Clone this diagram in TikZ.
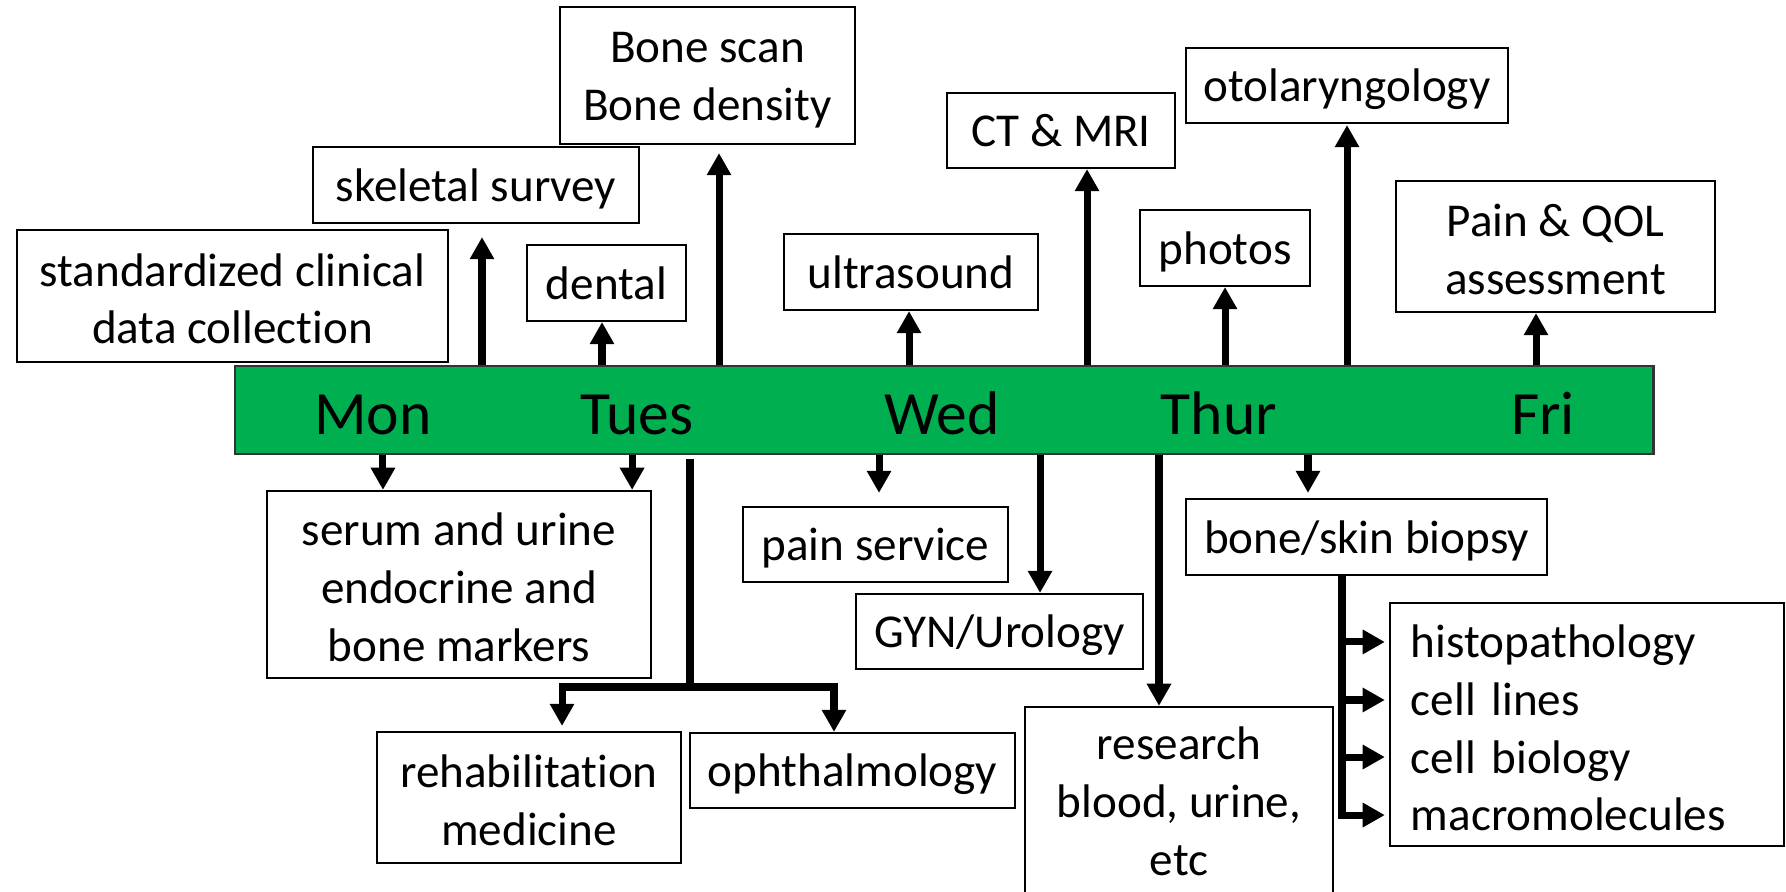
\documentclass[tikz,border=0pt]{standalone}
\usepackage{fontspec}
\setmainfont{Carlito}[Ligatures=NoCommon]
\usepackage{tikz}
\usetikzlibrary{arrows.meta}
\definecolor{weekgreen}{HTML}{00B050}
\newcommand\boxstrut{\rule[-2.7pt]{0pt}{14.6pt}}
\newcommand\tallstrut{\rule[-2.7pt]{0pt}{16.2pt}}
\newcommand\liststrut{\rule[-2.7pt]{0pt}{16.6pt}}

\begin{document}
\begin{tikzpicture}[x=0.01cm, y=-0.01cm,
    box/.style={draw=black, line width=0.6pt, fill=white, align=center, inner sep=0pt,
        font=\fontsize{13.4}{16.4}\selectfont,
        execute at begin node=\boxstrut, execute at end node=\boxstrut},
    day/.style={anchor=base, font=\fontsize{17.5}{20}\selectfont},
    arr/.style={-{Triangle[length=6.3pt, width=6.6pt]}, line width=2pt},
    trunk/.style={line width=2pt}]
        \useasboundingbox (0,0) rectangle (1786,892);

        % Week bar
        \node[draw=black!80, line width=0.6pt, fill=weekgreen, minimum width=141.8mm,
            minimum height=8.8mm, inner sep=0pt] (week) at (944,410) {};
        \node[day] (mon) at (373,435) {Mon};
        \node[day] (tues) at (637,435) {Tues};
        \node[day] (wed) at (942,435) {Wed};
        \node[day] (thur) at (1219,435) {Thur};
        \node[day] (fri) at (1543,435) {Fri};

        % Boxes above
        \node[box, minimum width=43.1mm, minimum height=13.2mm] (clinical) at (232.5,296)
            {\tallstrut standardized clinical\\data collection};
        \node[box, minimum width=32.6mm, minimum height=7.6mm] (skeletal) at (476,185) {skeletal survey};
        \node[box, minimum width=15.9mm, minimum height=7.6mm] (dental) at (606.5,283) {dental};
        \node[box, minimum width=29.5mm, minimum height=13.7mm] (bonescan) at (707.5,75.5)
            {\boxstrut Bone scan\\Bone density};
        \node[box, minimum width=25.4mm, minimum height=7.6mm] (ultra) at (911,272) {ultrasound};
        \node[box, minimum width=22.8mm, minimum height=7.5mm] (ctmri) at (1061,130.5) {CT \& MRI};
        \node[box, minimum width=32.2mm, minimum height=7.5mm] (oto) at (1347,85.5) {otolaryngology};
        \node[box, minimum width=17mm, minimum height=7.6mm] (photos) at (1225,248) {photos};
        \node[box, minimum width=31.9mm, minimum height=13.1mm] (qol) at (1555.5,246.5)
            {\tallstrut Pain \& QOL\\assessment};

        % Boxes below
        \node[box, minimum width=38.4mm, minimum height=18.7mm] (markers) at (459,584.5)
            {\tallstrut serum and urine\\endocrine and\\bone markers};
        \node[box, minimum width=30.4mm, minimum height=13.1mm] (rehab) at (529,797.5)
            {\tallstrut rehabilitation\\medicine};
        \node[box, minimum width=32.5mm, minimum height=7.5mm] (ophth) at (852.5,770.5) {ophthalmology};
        \node[box, minimum width=26.5mm, minimum height=7.5mm] (painsvc) at (875.5,544.5) {pain service};
        \node[box, minimum width=28.7mm, minimum height=7.5mm] (gyn) at (999.5,631.5) {GYN/Urology};
        \node[box, minimum width=30.8mm, minimum height=19.8mm] (research) at (1179,806)
            {research\\blood, urine,\\etc};
        \node[box, minimum width=36.1mm, minimum height=7.6mm] (biopsy) at (1366.5,537) {bone/skin biopsy};
        \node[box, align=left, inner xsep=2.1mm, text width=35.2mm, minimum height=24.3mm,
            execute at begin node=\liststrut]
            (lab) at (1587,724.5) {histopathology\\cell lines\\cell biology\\macromolecules};

        % Arrows up
        \foreach \n/\dx/\gap in {skeletal/0.6/1.3, dental/-0.45/0, bonescan/1.15/0.8, ultra/-0.2/0,
            ctmri/2.6/0, oto/0/0.1, photos/0/0, qol/-1.95/0}
            \draw[arr] ([xshift=\dx mm]\n.south |- week.north) -- ([xshift=\dx mm, yshift=-\gap mm]\n.south);

        % Arrows down
        \foreach \n/\dx/\gap in {markers/-7.6/0, markers/17.3/0, painsvc/0.35/1.3, gyn/4.05/0,
            research/-2/0, biopsy/-5.85/0.5}
            \draw[arr] ([xshift=\dx mm]\n.north |- week.south) -- ([xshift=\dx mm, yshift=\gap mm]\n.north);

        % Tuesday fork
        \coordinate (fork) at (690,687);
        \draw[trunk] ([yshift=-0.4mm]fork |- week.south) -- (fork);
        \draw[arr] (fork) -| ([xshift=3.3mm, yshift=0.5mm]rehab.north);
        \draw[arr] (fork) -| ([xshift=-1.85mm]ophth.north);

        % Biopsy branches
        \coordinate (split) at ([xshift=-2.45mm]biopsy.south);
        \coordinate (last) at ([yshift=-9.4mm]lab.west);
        \draw[trunk] (split) -- (split |- last);
        \foreach \dy in {8.25, 2.45, -3.25, -9.05}
            \draw[arr] ([yshift=\dy mm]lab.west -| split) -- ([xshift=-0.4mm, yshift=\dy mm]lab.west);
    \end{tikzpicture}
\end{document}
